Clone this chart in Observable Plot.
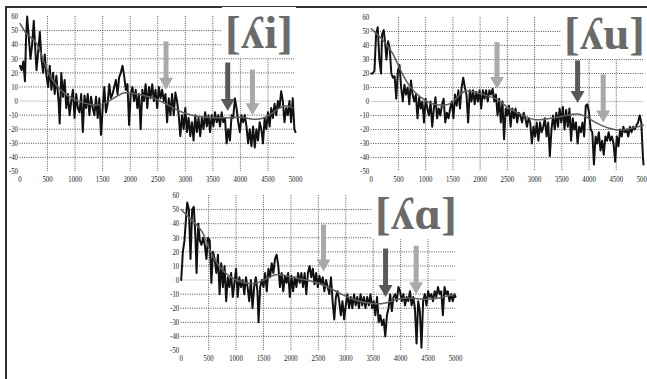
<!DOCTYPE html>
<html><head><meta charset="utf-8">
<script src="https://cdn.jsdelivr.net/npm/d3@7"></script>
<script src="https://cdn.jsdelivr.net/npm/@observablehq/plot@0.6"></script>
<style>
html,body{margin:0;padding:0;background:#fff;overflow:hidden;width:647px;height:379px}
#fig{position:relative;width:647px;height:379px;overflow:hidden}
.frame{position:absolute;left:5px;top:6px;width:700px;height:400px;border-left:2px solid #333;border-top:2px solid #333;box-sizing:border-box}
.panel{position:absolute}
.panel svg{overflow:visible;background:transparent}
.ipa{position:absolute;background:#fff;color:#6a6a6a;font-family:"Liberation Serif","DejaVu Serif",serif;font-weight:bold;font-size:47px;line-height:1;white-space:nowrap;padding:2px 3px}
</style></head>
<body>
<div id="fig"><div class="frame"></div></div>
<script>
// ---------- data ----------
const xTicks = [0,500,1000,1500,2000,2500,3000,3500,4000,4500,5000];
const yTicks = [-50,-40,-30,-20,-10,0,10,20,30,40,50,60];
const xGrid = [500,1000,1500,2000,2500,3000,3500,4000,4500];
const yGrid = [-40,-30,-20,-10,10,20,30,40,50];
const labels = ["[ʎi]","[ʎu]","[ʎɑ]"];

// [frequency Hz, level dB]
const spectrumI = [[0,25],[30,22],[60,28],[90,14],[110,45],[130,60],[160,45],[190,30],[220,40],[250,57],[280,35],[300,22],[330,35],[360,49],[390,30],[420,20],[450,33],[480,18],[510,10],[540,25],[570,8],[600,20],[630,5],[660,18],[700,0],[720,-16],[750,20],[780,3],[810,15],[840,-5],[870,5],[900,-10],[930,0],[960,8],[990,-12],[1020,5],[1050,-5],[1080,-8],[1110,5],[1140,-22],[1170,4],[1200,-5],[1230,5],[1260,-10],[1290,3],[1320,-5],[1350,-10],[1380,3],[1410,-12],[1440,2],[1470,-24],[1500,-5],[1530,10],[1560,-8],[1590,-2],[1620,12],[1650,2],[1680,5],[1710,10],[1740,15],[1770,5],[1800,17],[1830,20],[1860,25],[1890,18],[1920,8],[1950,12],[1980,-17],[2010,5],[2040,10],[2070,0],[2100,8],[2130,-5],[2160,5],[2190,-20],[2220,8],[2250,0],[2280,12],[2310,-5],[2340,10],[2370,2],[2400,12],[2430,0],[2460,8],[2490,-5],[2520,10],[2550,2],[2580,8],[2610,0],[2640,5],[2670,-15],[2700,2],[2730,-10],[2760,5],[2790,-10],[2820,6],[2850,0],[2880,-10],[2910,-25],[2940,-10],[2970,-20],[3000,-5],[3030,-22],[3060,-12],[3090,-25],[3120,-15],[3150,-28],[3180,-10],[3210,-22],[3240,-12],[3270,-25],[3300,-12],[3330,-20],[3360,-8],[3390,-18],[3420,-10],[3450,-22],[3480,-10],[3510,-18],[3540,-8],[3570,-15],[3600,-10],[3630,-18],[3660,-8],[3690,-15],[3720,-12],[3750,-30],[3780,-20],[3810,-28],[3840,-10],[3870,-12],[3900,2],[3930,-5],[3960,-15],[3990,-22],[4020,-10],[4050,-15],[4080,-10],[4110,-18],[4140,-30],[4170,-20],[4200,-32],[4230,-18],[4260,-33],[4290,-20],[4320,-28],[4350,-15],[4380,-20],[4410,-30],[4440,-12],[4470,-20],[4500,-8],[4530,-18],[4560,-5],[4590,-12],[4620,-2],[4650,-10],[4680,0],[4710,-5],[4740,7],[4770,0],[4800,-15],[4830,-5],[4860,-10],[4890,0],[4920,-15],[4950,2],[4980,-20],[5000,-22]];
const smoothI = [[0,55],[100,48],[200,45],[300,42],[400,32],[500,20],[700,8],[1000,0],[1300,-3],[1500,-3],[1700,2],[1900,7],[2100,5],[2400,3],[2700,-3],[3000,-10],[3500,-12],[3800,-12],[4000,-11],[4200,-13],[4400,-13],[4600,-8],[4800,-2],[4950,-5]];
const arrowsI = [{f:2650,top:42,tip:8,tone:"light"},{f:3770,top:27,tip:-7,tone:"dark"},{f:4220,top:22,tip:-10,tone:"light"}];

const spectrumU = [[0,20],[30,20],[60,22],[90,48],[120,53],[150,30],[180,20],[200,48],[230,51],[260,40],[280,30],[310,43],[340,38],[370,20],[400,17],[430,18],[460,2],[490,22],[520,26],[550,10],[580,0],[610,12],[640,5],[670,10],[700,-2],[730,15],[760,5],[790,0],[820,5],[850,-12],[880,3],[910,-5],[940,0],[970,-15],[1000,2],[1030,-5],[1060,-10],[1090,0],[1120,-18],[1150,-5],[1180,3],[1210,-12],[1240,-5],[1270,-10],[1300,-2],[1330,2],[1360,-15],[1390,-8],[1420,-12],[1450,-5],[1480,0],[1510,-12],[1540,5],[1570,-3],[1600,8],[1630,-5],[1660,10],[1690,17],[1720,10],[1750,5],[1780,-15],[1810,8],[1840,0],[1870,8],[1900,-2],[1930,7],[1960,0],[1990,8],[2020,-5],[2050,8],[2080,2],[2110,8],[2140,0],[2170,8],[2200,5],[2230,9],[2260,0],[2290,5],[2320,-10],[2350,2],[2380,-15],[2410,0],[2440,-27],[2470,-5],[2500,-10],[2530,-3],[2560,-18],[2590,-5],[2620,-12],[2650,-5],[2680,-15],[2710,-8],[2740,-10],[2770,-15],[2800,-8],[2830,-12],[2860,-18],[2890,-12],[2920,-15],[2950,-30],[2980,-18],[3010,-25],[3040,-15],[3070,-28],[3100,-15],[3130,-22],[3160,-18],[3190,-12],[3220,-25],[3250,-15],[3280,-39],[3310,-20],[3340,-10],[3370,-20],[3400,-8],[3430,-18],[3460,-5],[3490,-15],[3520,-4],[3550,-20],[3580,-6],[3610,-18],[3640,-5],[3670,-28],[3700,-12],[3730,-20],[3760,-15],[3790,-30],[3820,-18],[3850,-22],[3880,-15],[3910,-25],[3940,-3],[3970,-2],[4000,-8],[4030,-20],[4060,-22],[4090,-45],[4120,-25],[4150,-30],[4180,-22],[4210,-35],[4240,-28],[4270,-38],[4300,-25],[4330,-28],[4360,-22],[4390,-28],[4420,-25],[4450,-30],[4480,-43],[4510,-25],[4540,-32],[4570,-20],[4600,-25],[4630,-18],[4660,-22],[4690,-20],[4720,-25],[4750,-18],[4780,-22],[4810,-18],[4840,-20],[4870,-17],[4900,-15],[4930,-10],[4960,-15],[4990,-40],[5000,-45]];
const smoothU = [[0,52],[200,45],[400,35],[500,25],[700,10],[900,3],[1100,-2],[1300,-3],[1500,-2],[1700,10],[2000,5],[2300,3],[2500,-5],[2800,-10],[3000,-14],[3300,-12],[3600,-10],[3800,-8],[4000,-12],[4200,-17],[4500,-21],[4700,-20],[5000,-17]];
const arrowsU = [{f:2310,top:42,tip:9,tone:"light"},{f:3790,top:29,tip:-1,tone:"dark"},{f:4260,top:19,tip:-15,tone:"light"}];

const spectrumA = [[0,0],[30,20],[60,28],[90,45],[110,55],[140,50],[170,15],[200,50],[230,52],[260,30],[280,5],[310,40],[340,28],[370,25],[400,30],[430,25],[460,15],[490,30],[520,28],[550,-2],[580,20],[610,15],[640,5],[670,18],[700,-10],[730,12],[760,-5],[790,10],[820,-15],[850,2],[880,-5],[910,5],[940,-12],[970,-2],[1000,8],[1030,-12],[1060,2],[1090,-5],[1120,0],[1150,-10],[1180,2],[1210,-5],[1240,-15],[1270,0],[1300,-20],[1330,-5],[1360,2],[1390,-8],[1410,-30],[1440,-5],[1470,0],[1500,-5],[1530,5],[1560,-8],[1590,8],[1620,2],[1650,12],[1680,5],[1710,15],[1740,18],[1770,10],[1800,-5],[1830,5],[1860,-8],[1890,3],[1920,-2],[1950,5],[1980,-12],[2010,3],[2040,-8],[2070,2],[2100,-5],[2130,5],[2160,-2],[2190,5],[2220,-5],[2250,5],[2280,-10],[2310,5],[2340,10],[2370,2],[2400,8],[2430,-3],[2460,5],[2490,-5],[2520,3],[2550,-3],[2580,2],[2610,-8],[2640,0],[2670,-5],[2700,-10],[2730,2],[2760,-15],[2790,-28],[2820,-12],[2850,-8],[2880,-15],[2910,-25],[2940,-15],[2970,-28],[3000,-18],[3030,-10],[3060,-20],[3090,-12],[3120,-20],[3150,-10],[3180,-18],[3210,-12],[3240,-20],[3270,-10],[3300,-18],[3330,-12],[3360,-20],[3390,-12],[3420,-18],[3450,-10],[3480,-20],[3510,-15],[3540,-25],[3570,-12],[3600,-30],[3630,-25],[3660,-32],[3690,-28],[3720,-40],[3750,-25],[3780,-20],[3810,-10],[3840,-22],[3870,-12],[3900,-10],[3930,-15],[3960,-5],[3990,-8],[4020,-15],[4050,-10],[4080,-18],[4110,-12],[4140,-15],[4170,-8],[4200,-18],[4230,-12],[4260,-20],[4290,-45],[4320,-15],[4350,-22],[4380,-48],[4410,-15],[4440,-10],[4470,-18],[4500,-8],[4530,-12],[4560,-10],[4590,-15],[4620,-8],[4650,-12],[4680,-5],[4710,-10],[4740,-8],[4770,-25],[4800,-5],[4830,-10],[4860,-8],[4890,-15],[4920,-10],[4950,-15],[4980,-10],[5000,-12]];
const smoothA = [[0,50],[200,42],[400,35],[500,22],[700,8],[900,2],[1100,-2],[1400,-3],[1600,2],[1750,5],[2000,2],[2300,0],[2600,-3],[2900,-10],[3200,-15],[3500,-17],[3700,-17],[3900,-14],[4100,-12],[4400,-14],[4700,-13],[5000,-10]];
const arrowsA = [{f:2594,top:39,tip:6,tone:"light"},{f:3725,top:22,tip:-12,tone:"dark"},{f:4283,top:24,tip:-10,tone:"light"}];

// ---------- drawing ----------
const tone = {light:"#a9a9a9", dark:"#595959"};
const headDown = {draw(ctx){ ctx.moveTo(-7,-12); ctx.lineTo(7,-12); ctx.lineTo(0,0); ctx.closePath(); }};
const fontFam = '"Liberation Serif","Times New Roman",serif';

function panel(cfg){
  const svg = Plot.plot({
    width: cfg.w, height: cfg.h,
    marginLeft: cfg.mL, marginRight: cfg.mR, marginTop: cfg.mT, marginBottom: cfg.mB,
    style: {fontFamily: fontFam, fontSize: "8.5px", background: "transparent", color: "#222"},
    x: {domain: [0,5000]},
    y: {domain: [-50,60]},
    marks: [
      Plot.ruleY([0], {stroke: "#d0d0d0", strokeWidth: 1}),
      Plot.gridX(xGrid, {stroke: "#555", strokeOpacity: 1, strokeDasharray: "1,1.3"}),
      Plot.gridY(yGrid, {stroke: "#555", strokeOpacity: 1, strokeDasharray: "1,1.3"}),
      Plot.axisX(xTicks, {tickSize: 0, tickPadding: 4, tickFormat: d => String(d), label: null, fill: "#222"}),
      Plot.axisY(yTicks, {tickSize: 0, tickPadding: 2, tickFormat: d => String(d), label: null, fill: "#222"}),
      Plot.line(cfg.spec, {x: d => d[0], y: d => d[1], stroke: "#111", strokeWidth: 2, strokeLinejoin: "round"}),
      Plot.line(cfg.smooth, {x: d => d[0], y: d => d[1], stroke: "#5f5f5f", strokeWidth: 1.5, curve: "basis"}),
      Plot.ruleX(cfg.arrows, {x: "f", y1: "top", y2: "tip", stroke: d => tone[d.tone], strokeWidth: 5, insetBottom: 8}),
      Plot.dot(cfg.arrows, {x: "f", y: "tip", symbol: headDown, fill: d => tone[d.tone], stroke: "none"})
    ]
  });
  const div = document.createElement("div");
  div.className = "panel";
  div.style.left = cfg.left + "px"; div.style.top = cfg.top + "px";
  div.style.width = cfg.w + "px"; div.style.height = cfg.h + "px";
  div.appendChild(svg);
  document.getElementById("fig").appendChild(div);
  // narrow the tick labels like the reference's condensed digits
  svg.querySelectorAll('g[aria-label="x-axis tick label"] text, g[aria-label="y-axis tick label"] text').forEach(t => {
    const L = t.getComputedTextLength();
    if (L > 0) { t.setAttribute("textLength", (L * 0.8).toFixed(2)); t.setAttribute("lengthAdjust", "spacingAndGlyphs"); }
  });
  const lab = document.createElement("div");
  lab.className = "ipa";
  lab.textContent = cfg.label;
  lab.style.left = cfg.labX + "px"; lab.style.top = cfg.labY + "px";
  document.getElementById("fig").appendChild(lab);
}

panel({left:0, top:0, w:320, h:188, mL:19.5, mR:25, mT:16, mB:17, spec:spectrumI, smooth:smoothI, arrows:arrowsI, label:labels[0], labX:222, labY:7});
panel({left:320, top:0, w:327, h:188, mL:50.7, mR:4, mT:17, mB:17, spec:spectrumU, smooth:smoothU, arrows:arrowsU, label:labels[1], labX:561, labY:8});
panel({left:150, top:188, w:330, h:191, mL:30.7, mR:25, mT:7, mB:29, spec:spectrumA, smooth:smoothA, arrows:arrowsA, label:labels[2], labX:372, labY:188});
</script>
</body></html>
